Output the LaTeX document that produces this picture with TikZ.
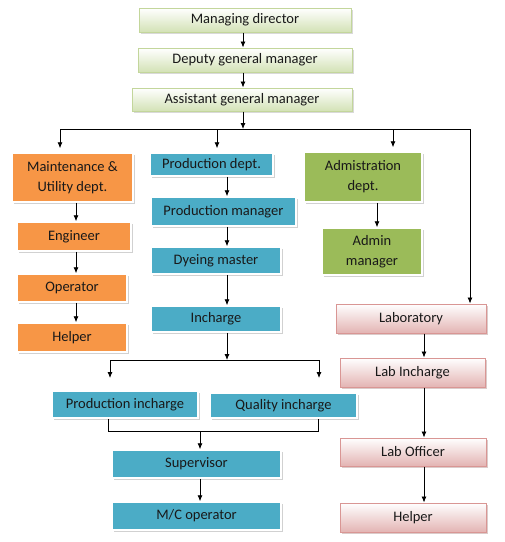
\documentclass[tikz,border=0pt]{standalone}
\usepackage{fontspec}
\setmainfont{Carlito}
\usetikzlibrary{shadows,arrows.meta}

\definecolor{orgfill}{HTML}{F79646}
\definecolor{blufill}{HTML}{4BACC6}
\definecolor{grnfill}{HTML}{9BBB59}
\definecolor{topfill}{HTML}{D3E2B6}
\definecolor{topline}{HTML}{C3D69B}
\definecolor{pnkfill}{HTML}{E3B4B3}
\definecolor{pnkline}{HTML}{D99694}

\begin{document}
\begin{tikzpicture}[x=1pt, y=-1pt, >={Latex[length=6pt,width=5pt]},
    every node/.style={font=\fontsize{14.5}{20}\selectfont, text=black!90, align=center, inner sep=0pt},
    sz/.style 2 args={minimum width=#1pt, minimum height=#2pt},
    topbox/.style={draw=topline, line width=1pt, top color=white, bottom color=topfill,
        drop shadow={shadow xshift=1.5pt, shadow yshift=-1.5pt, fill=black, opacity=0.15}},
    flatbox/.style={draw=white, line width=1.5pt,
        drop shadow={shadow xshift=2pt, shadow yshift=-2pt, fill=black, opacity=0.18}},
    orbox/.style={flatbox, fill=orgfill},
    blbox/.style={flatbox, fill=blufill},
    grbox/.style={flatbox, fill=grnfill},
    pkbox/.style={draw=pnkline, line width=1pt, top color=white, bottom color=pnkfill,
        drop shadow={shadow xshift=1.5pt, shadow yshift=-2pt, fill=pnkline!70!black, opacity=0.35}},
    ln/.style={line width=0.8pt},
    arr/.style={->, line width=0.8pt}]
    \useasboundingbox (0,0) rectangle (505,542);

    % Top management
    \node[topbox, sz={212}{24}] (md) at (245,20) {Managing director};
    \node[topbox, sz={214}{24}] (dgm) at (245,60) {Deputy general manager};
    \node[topbox, sz={220}{23}] (agm) at (242,99.5) {Assistant general manager};

    % Maintenance
    \node[orbox, sz={121}{49}] (mnt) at (72.5,177.5) {Maintenance \&\\Utility dept.};
    \node[orbox, sz={114}{29}] (eng) at (74,236.5) {Engineer};
    \node[orbox, sz={110}{28}] (op) at (72,288) {Operator};
    \node[orbox, sz={110}{29}] (hlp) at (72,337.5) {Helper};

    % Production
    \node[blbox, sz={123}{23}] (pd) at (211.5,164.5) {Production dept.};
    \node[blbox, sz={145}{29}] (pm) at (223.5,211.5) {Production manager};
    \node[blbox, sz={130}{27}] (dm) at (216,260.5) {Dyeing master};
    \node[blbox, sz={130}{26}] (inc) at (216,319) {Incharge};
    \node[blbox, sz={146}{27}] (pi) at (125,404.5) {Production incharge};
    \node[blbox, sz={147}{25}] (qi) at (283.5,405.5) {Quality incharge};
    \node[blbox, sz={169}{28}] (sup) at (196.5,464) {Supervisor};
    \node[blbox, sz={169}{28}] (mco) at (196.5,516) {M/C operator};

    % Administration
    \node[grbox, sz={118}{50}] (adm) at (363,177) {Admistration\\dept.};
    \node[grbox, sz={100}{47}] (adman) at (372,251.5) {Admin\\manager};

    % Laboratory
    \node[pkbox, sz={150}{29}] (lab) at (411,318.5) {Laboratory};
    \node[pkbox, sz={145}{29}] (labi) at (412.5,372.5) {Lab Incharge};
    \node[pkbox, sz={146}{28}] (labo) at (413,452) {Lab Officer};
    \node[pkbox, sz={146}{29}] (hlp2) at (413,517.5) {Helper};

    % Lanes and branch points
    \coordinate (tc) at (243,0);
    \coordinate (oc) at (76,0);
    \coordinate (cl) at (227,0);
    \coordinate (ac) at (377,0);
    \coordinate (lc) at (424,0);
    \coordinate (br) at (243,129);
    \coordinate (brL) at (60,129);
    \coordinate (brP) at (217,129);
    \coordinate (brA) at (393,129);
    \coordinate (brR) at (470,129);
    \coordinate (ib) at (227,360);
    \coordinate (ibL) at (110,360);
    \coordinate (ibR) at (319,360);
    \coordinate (ibLe) at (110,378);
    \coordinate (ibRe) at (319,378);
    \coordinate (mL) at (108,431);
    \coordinate (mR) at (318,431);
    \coordinate (mc) at (200,431);

    % Connectors
    \draw[arr] (md.south -| tc) -- (dgm.north -| tc);
    \draw[arr] (dgm.south -| tc) -- (agm.north -| tc);
    \draw[arr] (agm.south -| tc) -- (br);
    \draw[ln] (brL) -- (brR);
    \draw[arr, shorten >=4pt] (brL) -- (brL |- mnt.north);
    \draw[arr, shorten >=4pt] (brP) -- (brP |- pd.north);
    \draw[arr, shorten >=4pt] (brA) -- (brA |- adm.north);
    \draw[arr] (brR) -- (brR |- lab.north);

    \foreach \a/\b in {mnt/eng, eng/op, op/hlp}
        \draw[arr] (\a.south -| oc) -- (\b.north -| oc);
    \foreach \a/\b in {pd/pm, pm/dm, dm/inc}
        \draw[arr] (\a.south -| cl) -- (\b.north -| cl);
    \foreach \a/\b in {lab/labi, labi/labo, labo/hlp2}
        \draw[arr] (\a.south -| lc) -- (\b.north -| lc);
    \draw[arr] (adm.south -| ac) -- (adman.north -| ac);

    \draw[arr] (inc.south -| cl) -- (ib);
    \draw[ln] (ibL) -- (ibR);
    \draw[arr] (ibL) -- (ibLe);
    \draw[arr] (ibR) -- (ibRe);
    \draw[ln] (pi.south -| mL) -- (mL) -- (mR) -- (qi.south -| mR);
    \draw[arr] (mc) -- (sup.north -| mc);
    \draw[arr] (sup.south -| mc) -- (mco.north -| mc);
\end{tikzpicture}
\end{document}
